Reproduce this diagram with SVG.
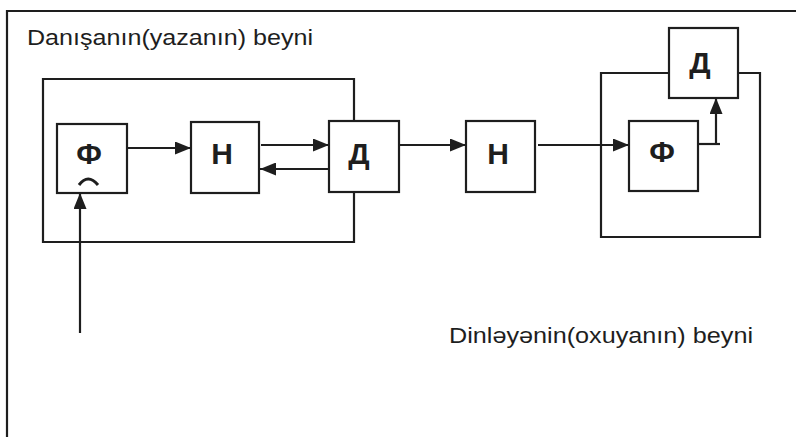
<svg xmlns="http://www.w3.org/2000/svg" width="796" height="438" viewBox="0 0 796 438">
<style>
.frame{fill:none;stroke:#1e1e1e;stroke-width:2.2}
.box{fill:#fff;stroke:#1e1e1e;stroke-width:2.2}
.lbl{font-family:"Liberation Sans",Arial,sans-serif;font-weight:bold;font-size:30px;fill:#1e1e1e;text-anchor:middle}
.cap{font-family:"Liberation Sans",Arial,sans-serif;font-size:22px;fill:#1e1e1e}
.conn{fill:none;stroke:#1e1e1e;stroke-width:2.2}
</style>
<defs>
<marker id="ah" markerWidth="16" markerHeight="13" refX="16" refY="6.5" orient="auto" markerUnits="userSpaceOnUse">
<path d="M0,0 L16,6.5 L0,13 Z" fill="#1e1e1e"/>
</marker>
</defs>
<rect width="796" height="438" fill="#fff"/>
<g id="outer-frame">
<path class="frame" d="M7,437 V11 H796"/>
</g>
<g id="speaker-frame">
<path class="frame" d="M354,121 V79 H43 V242 H354 V192"/>
</g>
<g id="listener-frame">
<path class="frame" d="M669,73 H601 V237 H760 V73 H738"/>
</g>
<text class="cap" x="27" y="45" textLength="286" lengthAdjust="spacingAndGlyphs">Danışanın(yazanın) beyni</text>
<text class="cap" x="449" y="343" textLength="304" lengthAdjust="spacingAndGlyphs">Dinləyənin(oxuyanın) beyni</text>
<g id="node-f1">
<rect class="box" x="57" y="124" width="70" height="69"/>
<text class="lbl" x="89" y="164">Ф</text>
<path d="M79,185 Q88,173 98,185" fill="none" stroke="#1e1e1e" stroke-width="3"/>
</g>
<g id="node-n1">
<rect class="box" x="191" y="122" width="68" height="71"/>
<text class="lbl" x="222" y="164">Н</text>
</g>
<g id="node-d1">
<rect class="box" x="329" y="121" width="70" height="71"/>
<text class="lbl" x="359" y="164">Д</text>
</g>
<g id="node-n2">
<rect class="box" x="466" y="121" width="69" height="71"/>
<text class="lbl" x="498" y="164">Н</text>
</g>
<g id="node-f2">
<rect class="box" x="629" y="121" width="69" height="70"/>
<text class="lbl" x="662" y="162">Ф</text>
</g>
<g id="node-d2">
<rect class="box" x="669" y="28" width="69" height="70"/>
<text class="lbl" x="700" y="73">Д</text>
</g>
<g id="connectors">
<line class="conn" x1="127" y1="148" x2="191" y2="148" marker-end="url(#ah)"/>
<line class="conn" x1="261" y1="145" x2="329" y2="145" marker-end="url(#ah)"/>
<line class="conn" x1="329" y1="169" x2="260" y2="169" marker-end="url(#ah)"/>
<line class="conn" x1="399" y1="145" x2="466" y2="145" marker-end="url(#ah)"/>
<line class="conn" x1="538" y1="145" x2="629" y2="145" marker-end="url(#ah)"/>
<line class="conn" x1="80" y1="333" x2="80" y2="193" marker-end="url(#ah)"/>
<path class="conn" d="M698,144 H720"/>
<line class="conn" x1="716" y1="144" x2="716" y2="98" marker-end="url(#ah)"/>
</g>
</svg>
